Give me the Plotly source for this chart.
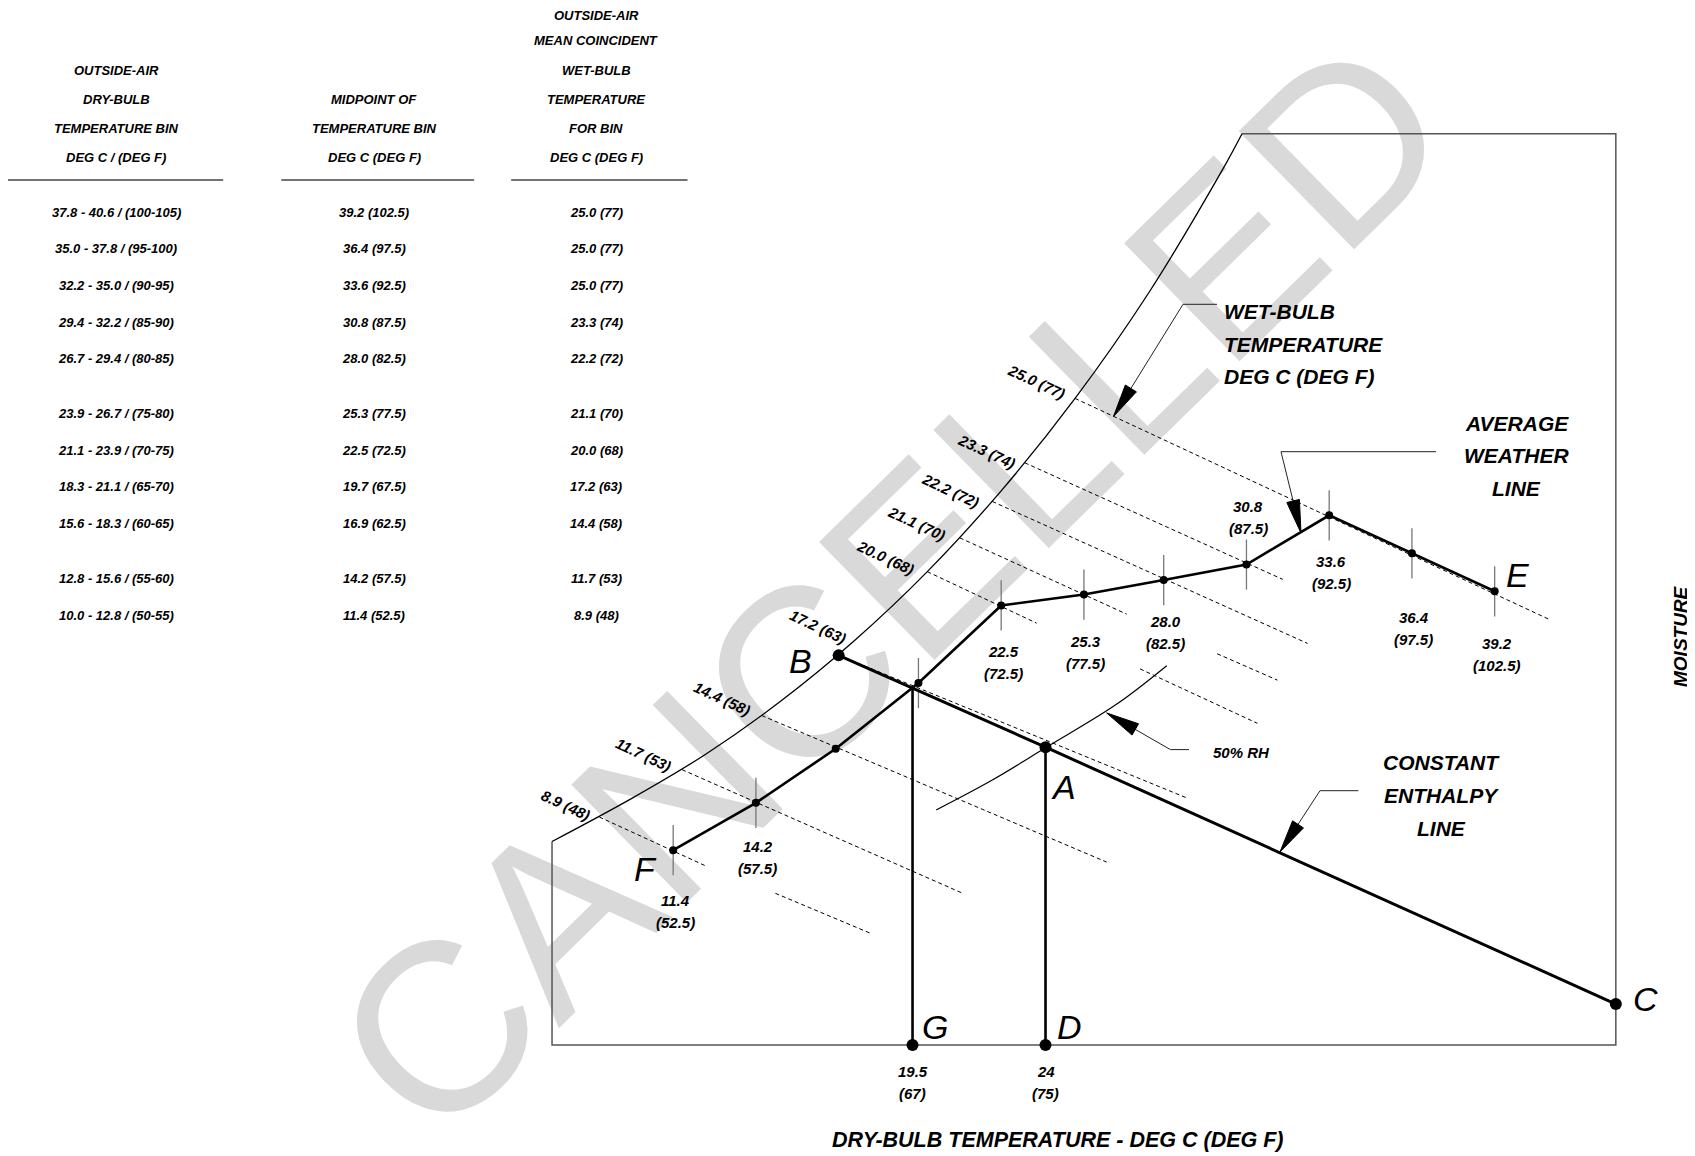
import math
import plotly.graph_objects as go

# ---- bin table / average weather line (deg C with deg F in brackets) ----
BIN_C = ["10.0 - 12.8", "12.8 - 15.6", "15.6 - 18.3", "18.3 - 21.1", "21.1 - 23.9", "23.9 - 26.7",
         "26.7 - 29.4", "29.4 - 32.2", "32.2 - 35.0", "35.0 - 37.8", "37.8 - 40.6"]
BIN_F = ["50-55", "55-60", "60-65", "65-70", "70-75", "75-80", "80-85", "85-90", "90-95", "95-100", "100-105"]
DB_C = [11.4, 14.2, 16.9, 19.7, 22.5, 25.3, 28.0, 30.8, 33.6, 36.4, 39.2]
DB_F = [52.5, 57.5, 62.5, 67.5, 72.5, 77.5, 82.5, 87.5, 92.5, 97.5, 102.5]
WB_C = [8.9, 11.7, 14.4, 17.2, 20.0, 21.1, 22.2, 23.3, 25.0, 25.0, 25.0]
WB_F = [48, 53, 58, 63, 68, 70, 72, 74, 77, 77, 77]
# moisture (g/kg) for each bin point
MOIST = [6.05, 7.52, 9.20, 11.24, 13.65, 13.99, 14.44, 14.92, 16.45, 15.27, 14.09]
TICKED = [1, 1, 0, 1, 1, 1, 1, 1, 1, 1, 1]

# saturation curve (g/kg)
SAT_T = [7.3, 10.0, 12.5, 15.0, 17.5, 20.0, 22.5, 25.0, 27.5, 30.0, 30.65]
SAT_W = [6.32, 7.66, 9.03, 10.65, 12.53, 14.70, 17.21, 20.08, 23.37, 27.20, 28.3]

# 50% RH curve
RH_T = [20.3, 22.2, 24.0, 26.4, 28.1]
RH_W = [7.30, 8.23, 9.23, 10.58, 11.78]

# wet-bulb lines (dashed), label values and segments (t0, w0, t1, w1)
WB_LBL_C = [25.0, 23.3, 22.2, 21.1, 20.0, 17.2, 14.4, 11.7, 8.9]
WB_LBL_F = [77, 74, 72, 70, 68, 63, 58, 53, 48]
WB_SEGS = [
    [(25.0, 20.08, 41.04, 13.22)],
    [(23.3, 18.08, 32.03, 14.46)],
    [(22.2, 16.88, 32.87, 12.47)],
    [(21.1, 15.75, 26.75, 13.38), (29.81, 12.15, 31.85, 11.33)],
    [(20.0, 14.70, 23.7, 13.10), (27.2, 11.68, 31.17, 9.99)],
    [(17.0, 12.10, 28.79, 7.67)],
    [(14.4, 10.23, 26.07, 5.68)],
    [(11.7, 8.55, 21.2, 4.71)],
    [(8.9, 7.08, 12.48, 5.57), (14.86, 4.71, 18.1, 3.46)],
]

# process points
B_PT = (17.0, 12.10)
A_PT = (24.0, 9.25)
C_PT = (43.3, 1.27)
G_PT = (19.5, 0.0, 67)
D_PT = (24.0, 0.0, 75)
G_TOP = 11.08

T_MIN, T_MAX, W_MAX = 7.3, 43.3, 28.3

FIG_W, FIG_H = 1695, 1156
OFF = 8  # page body margin
X_RANGE = [-11.11, 46.25]
Y_RANGE = [-3.696, 32.205]
FONT = "Liberation Sans"


def bi(size, color="black"):
    return dict(family=FONT, size=size, color=color, weight="bold", style="italic")


def pp(x, y):
    return (x - OFF) / FIG_W, 1 - (y - OFF) / FIG_H


fig = go.Figure()

# frame + saturation curve
fig.add_trace(go.Scatter(x=[SAT_T[0], T_MIN, T_MAX, T_MAX, SAT_T[-1]],
                         y=[SAT_W[0], 0, 0, W_MAX, W_MAX],
                         mode="lines", line=dict(color="#555555", width=1.5)))
fig.add_trace(go.Scatter(x=SAT_T, y=SAT_W, mode="lines", line=dict(color="black", width=1.3, shape="spline")))

# dashed wet-bulb lines
xs, ys = [], []
for segs in WB_SEGS:
    for t0, w0, t1, w1 in segs:
        xs += [t0, t1, None]
        ys += [w0, w1, None]
fig.add_trace(go.Scatter(x=xs, y=ys, mode="lines", line=dict(color="black", width=1, dash="4px,3px")))

# 50% RH
fig.add_trace(go.Scatter(x=RH_T, y=RH_W, mode="lines", line=dict(color="black", width=1.2, shape="spline")))

# ticks at the bin points
tx, ty = [], []
for t, w, k in zip(DB_C, MOIST, TICKED):
    if k:
        tx += [t, t, None]
        ty += [w - 0.78, w + 0.78, None]
fig.add_trace(go.Scatter(x=tx, y=ty, mode="lines", line=dict(color="#777777", width=1.3)))

# average weather line
fig.add_trace(go.Scatter(x=DB_C, y=MOIST, mode="lines+markers",
                         line=dict(color="black", width=2.6), marker=dict(color="black", size=8)))

# constant enthalpy line and verticals
fig.add_trace(go.Scatter(x=[B_PT[0], A_PT[0], C_PT[0]], y=[B_PT[1], A_PT[1], C_PT[1]],
                         mode="lines", line=dict(color="black", width=3)))
fig.add_trace(go.Scatter(x=[G_PT[0], G_PT[0], None, D_PT[0], D_PT[0]], y=[G_PT[1], G_TOP, None, D_PT[1], A_PT[1]],
                         mode="lines", line=dict(color="black", width=2.6)))
fig.add_trace(go.Scatter(x=[B_PT[0], A_PT[0], C_PT[0], G_PT[0], D_PT[0]],
                         y=[B_PT[1], A_PT[1], C_PT[1], G_PT[1], D_PT[1]],
                         mode="markers", marker=dict(color="black", size=12)))

# ---- text ----
def note(x, y, s, font, dx=0, dy=0, angle=0, anchor="center"):
    fig.add_annotation(x=x, y=y, text=s, showarrow=False, font=font, xshift=dx, yshift=-dy,
                       textangle=angle, xanchor=anchor, yanchor="middle")


def note_px(x, y, s, font, angle=0, anchor="center"):
    px, py = pp(x, y)
    fig.add_annotation(x=px, y=py, xref="paper", yref="paper", text=s, showarrow=False,
                       font=font, textangle=angle, xanchor=anchor, yanchor="middle")


# bin point labels (offset below/above point, px)
LBL_DY = [50, 44, None, None, 46, 47, 41, -58, 46, 64, 52]
for t, f, w, d in zip(DB_C, DB_F, MOIST, LBL_DY):
    if d is None:
        continue
    note(t, w, f"{t:.1f}", bi(15), dx=2, dy=d)
    note(t, w, f"({f:g})", bi(15), dx=2, dy=d + 22)

# wet-bulb labels
WB_OFF = [(-39, -17), (-38, -11), (-42, -11), (-43, -14), (-42, -14), (-21, -29), (-40, -17), (-39, -15), (-33, -12)]
for c, f, segs, (ox, oy) in zip(WB_LBL_C, WB_LBL_F, WB_SEGS, WB_OFF):
    note(segs[0][0], segs[0][1], f"{c:.1f} ({f})", bi(15), dx=ox, dy=oy, angle=25)

# G / D values
for t, w, f in (G_PT, D_PT):
    note(t, w, f"{t:g}", bi(15), dy=27)
    note(t, w, f"({f})", bi(15), dy=49)

# point letters
big = dict(family=FONT, size=34, color="black", style="italic")
note(B_PT[0], B_PT[1], "B", big, dx=-38, dy=6)
note(A_PT[0], A_PT[1], "A", big, dx=18, dy=40)
note(C_PT[0], C_PT[1], "C", big, dx=30, dy=-5)
note(G_PT[0], G_PT[1], "G", big, dx=22, dy=-18)
note(D_PT[0], D_PT[1], "D", big, dx=24, dy=-18)
note(DB_C[0], MOIST[0], "F", big, dx=-28, dy=19)
note(DB_C[-1], MOIST[-1], "E", big, dx=23, dy=-16)

# table
COL_X = [116, 374, 596]
HEAD = [
    ["OUTSIDE-AIR", "DRY-BULB", "TEMPERATURE BIN", "DEG C / (DEG F)"],
    ["MIDPOINT OF", "TEMPERATURE BIN", "DEG C (DEG F)"],
    ["OUTSIDE-AIR", "MEAN COINCIDENT", "WET-BULB", "TEMPERATURE", "FOR BIN", "DEG C (DEG F)"],
]
for cx, lines in zip(COL_X, HEAD):
    for k, s in enumerate(lines):
        note_px(cx, max(15.5, 11.7 + 29.2 * (6 - len(lines) + k)), s, bi(13))
for x0, x1 in [(7.6, 223.2), (281.3, 474.1), (511.2, 687.5)]:
    a0, b0 = pp(x0, 180)
    a1, b1 = pp(x1, 180)
    fig.add_shape(type="line", xref="paper", yref="paper", x0=a0, x1=a1, y0=b0, y1=b1,
                  line=dict(color="#444444", width=1.5))
n = len(DB_C)
for i in range(n):
    j = n - 1 - i
    grp = 0 if i < 5 else (1 if i < 9 else 2)
    y = 212.3 + 36.6 * i + 18.5 * grp
    note_px(COL_X[0], y, f"{BIN_C[j]} / ({BIN_F[j]})", bi(13))
    note_px(COL_X[1], y, f"{DB_C[j]:.1f} ({DB_F[j]:g})", bi(13))
    note_px(COL_X[2], y, f"{WB_C[j]:.1f} ({WB_F[j]})", bi(13))

# callouts
for k, s in enumerate(["WET-BULB", "TEMPERATURE", "DEG C (DEG F)"]):
    note_px(1222, 311.7 + 32.5 * k, s, bi(21), anchor="left")
for k, s in enumerate(["AVERAGE", "WEATHER", "LINE"]):
    note_px(1516.5, 423.3 + 32.5 * k, s, bi(21))
for k, s in enumerate(["CONSTANT", "ENTHALPY", "LINE"]):
    note_px(1441, 762 + 33 * k, s, bi(21))
note_px(1241.7, 752.7, "50% RH", bi(15))
note_px(1680, 636, "MOISTURE", bi(19), angle=-90)
note_px(1058, 1140, "DRY-BULB TEMPERATURE - DEG C (DEG F)", bi(21.5))


def arrow(pts, length=33, half=6.5):
    for (x0, y0), (x1, y1) in zip(pts[:-1], pts[1:]):
        a0, b0 = pp(x0, y0)
        a1, b1 = pp(x1, y1)
        fig.add_shape(type="line", xref="paper", yref="paper", x0=a0, y0=b0, x1=a1, y1=b1,
                      line=dict(color="#222222", width=1))
    (x0, y0), (x1, y1) = pts[-2], pts[-1]
    d = math.hypot(x1 - x0, y1 - y0)
    ux, uy = (x1 - x0) / d, (y1 - y0) / d
    bx, by = x1 - ux * length, y1 - uy * length
    tri = [(x1, y1), (bx - uy * half, by + ux * half), (bx + uy * half, by - ux * half)]
    path = "M " + " L ".join("{:.5f},{:.5f}".format(*pp(x, y)) for x, y in tri) + " Z"
    fig.add_shape(type="path", xref="paper", yref="paper", path=path,
                  fillcolor="black", line=dict(color="black", width=1))


arrow([(1217, 304.3), (1183, 304.3), (1113.5, 416.5)])
arrow([(1436, 451.7), (1281, 451.7), (1301, 533)])
arrow([(1358.3, 790.7), (1320, 790.7), (1280, 852)])
arrow([(1189, 749.6), (1170.4, 749.6), (1106.7, 713)])

# watermark
cx, cy, ang = 875, 570, math.radians(44.4)
wa = pp(cx - 300 * math.cos(ang), cy + 300 * math.sin(ang))
wb = pp(cx + 300 * math.cos(ang), cy - 300 * math.sin(ang))
fig.add_shape(type="line", xref="paper", yref="paper", layer="below",
              x0=wa[0], y0=wa[1], x1=wb[0], y1=wb[1],
              line=dict(color="rgba(0,0,0,0)", width=1),
              label=dict(text="CANCELLED", textposition="middle", yanchor="middle", padding=0,
                         font=dict(family=FONT, size=240, color="#d9d9d9")))

fig.update_layout(
    width=FIG_W, height=FIG_H, autosize=False,
    margin=dict(l=0, r=0, t=0, b=0),
    showlegend=False,
    plot_bgcolor="white", paper_bgcolor="white",
    xaxis=dict(range=X_RANGE, visible=False),
    yaxis=dict(range=Y_RANGE, visible=False),
    hovermode=False,
)
fig.write_html("out.html", config={"displayModeBar": False})
